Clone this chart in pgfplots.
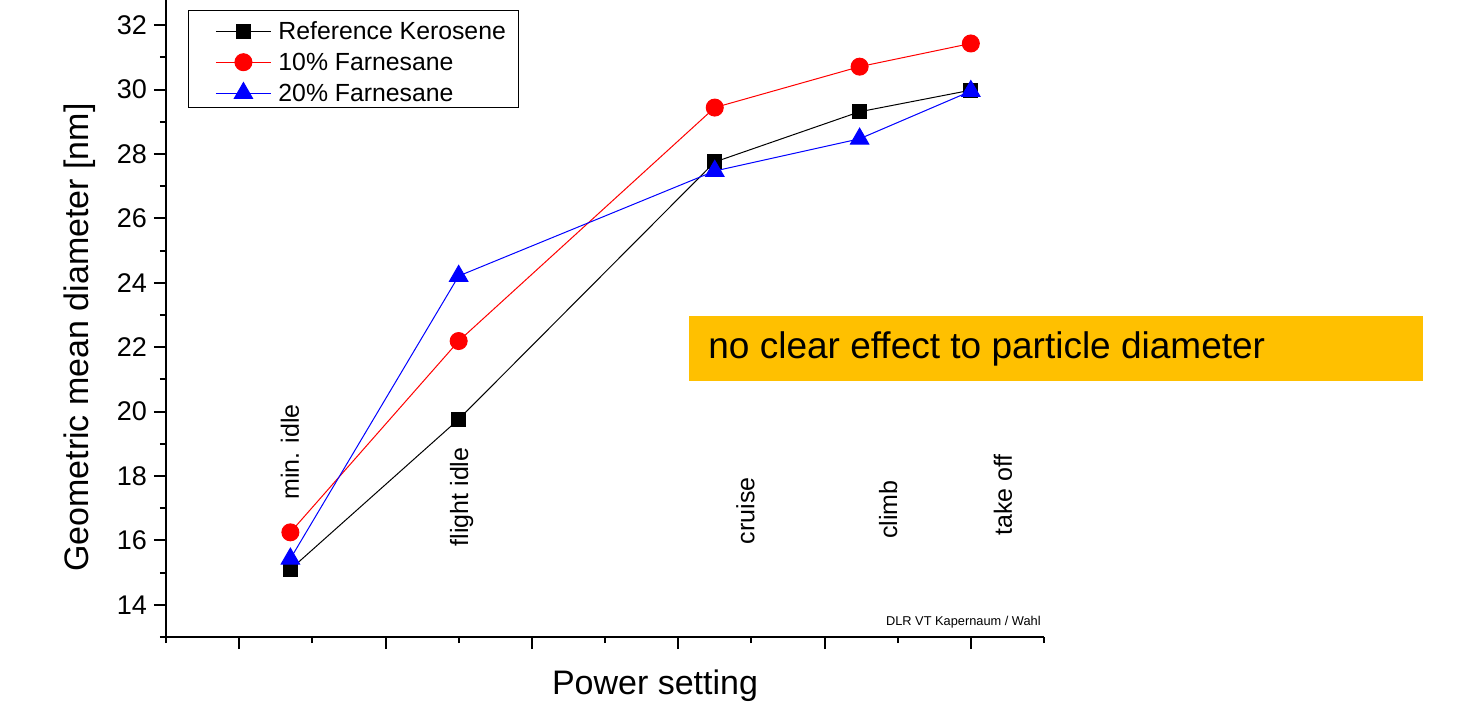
\documentclass[border=0pt]{standalone}
\usepackage{pgfplots}
\pgfplotsset{compat=1.18}
\usepackage{fontspec}
\setmainfont{Liberation Sans}
\definecolor{boxgold}{HTML}{FFC000}

\begin{document}
\begin{tikzpicture}
\begin{axis}[
  at={(0,0)}, anchor=south west,
  scale only axis, width=439pt, height=318.5pt,
  xmin=0, xmax=6, ymin=13, ymax=32.78,
  axis lines=left, axis line style={line width=1pt, -},
  xtick={0.5,1.5,2.5,3.5,4.5,5.5}, minor xtick={0,1,2,3,4,5,6}, xticklabels={},
  ytick={14,16,...,32}, minor ytick={13,15,...,31},
  tick align=outside, major tick length=6pt, minor tick length=3pt,
  tick style={line width=1pt, black},
  /pgf/number format/assume math mode=true,
  yticklabel style={font=\fontsize{13.5}{13.5}\selectfont},
  ylabel={Geometric mean diameter [nm]},
  ylabel style={at={(axis description cs:-0.098,0.47)}, anchor=center, font=\fontsize{17}{17}\selectfont},
  xlabel={Power setting},
  xlabel style={at={(axis description cs:0.557,0)}, anchor=center, yshift=-24.5pt, font=\fontsize{17}{17}\selectfont},
  clip=false,
  legend style={at={(axis description cs:0.025,0.984)}, anchor=north west,
    draw=black, line width=0.5pt, font=\fontsize{12.4}{12.4}\selectfont, row sep=0pt,
    inner xsep=4.5pt, inner ysep=1pt, nodes={text depth=0pt, text height=11.5pt}},
  legend cell align=left,
  legend image code/.code={%
    \path (0pt,0pt) (38pt,0pt);
    \draw[mark repeat=2,mark phase=2,yshift=-1.5pt,#1] plot coordinates {(9pt,0pt)(22.75pt,0pt)(36.5pt,0pt)};},
]
% Reference Kerosene
\addplot[black, line width=0.5pt, mark=square*, mark size=3.5pt, mark options={solid}]
  coordinates {(0.85,15.10)(2.0,19.76)(3.75,27.75)(4.74,29.31)(5.5,29.98)};
\addlegendentry{Reference Kerosene}
% 10% Farnesane
\addplot[red, line width=0.5pt, mark=*, mark size=4.25pt, mark options={solid}]
  coordinates {(0.85,16.25)(2.0,22.19)(3.75,29.44)(4.74,30.71)(5.5,31.43)};
\addlegendentry{10\% Farnesane}
% 20% Farnesane
\addplot[blue, line width=0.5pt, mark=triangle*, mark size=5.3pt, mark options={solid}]
  coordinates {(0.85,15.43)(2.0,24.21)(3.75,27.47)(4.74,28.47)(5.5,29.95)};
\addlegendentry{20\% Farnesane}

% power setting names
\begin{scope}[every node/.style={rotate=90, anchor=center, font=\fontsize{12.5}{12.5}\selectfont}]
\node at (axis cs:0.847,18.75) {min. idle};
\node at (axis cs:2.02,17.35) {flight idle};
\node at (axis cs:3.96,16.92) {cruise};
\node at (axis cs:4.935,16.95) {climb};
\node at (axis cs:5.72,17.41) {take off};
\end{scope}
\node[anchor=east, inner sep=0pt, font=\fontsize{6.4}{6.4}\selectfont] at (axis cs:5.98,13.47) {DLR VT Kapernaum / Wahl};
\end{axis}

% remark box
\fill[boxgold] (261.5pt,128pt) rectangle (628.5pt,160.5pt);
\node[anchor=west, inner sep=0pt, font=\fontsize{18.5}{18.5}\selectfont] at (271pt,144.25pt) {no clear effect to particle diameter};

\pgfresetboundingbox
\path[use as bounding box] (-83pt,-36pt) rectangle (652pt,318.5pt);
\end{tikzpicture}
\end{document}
